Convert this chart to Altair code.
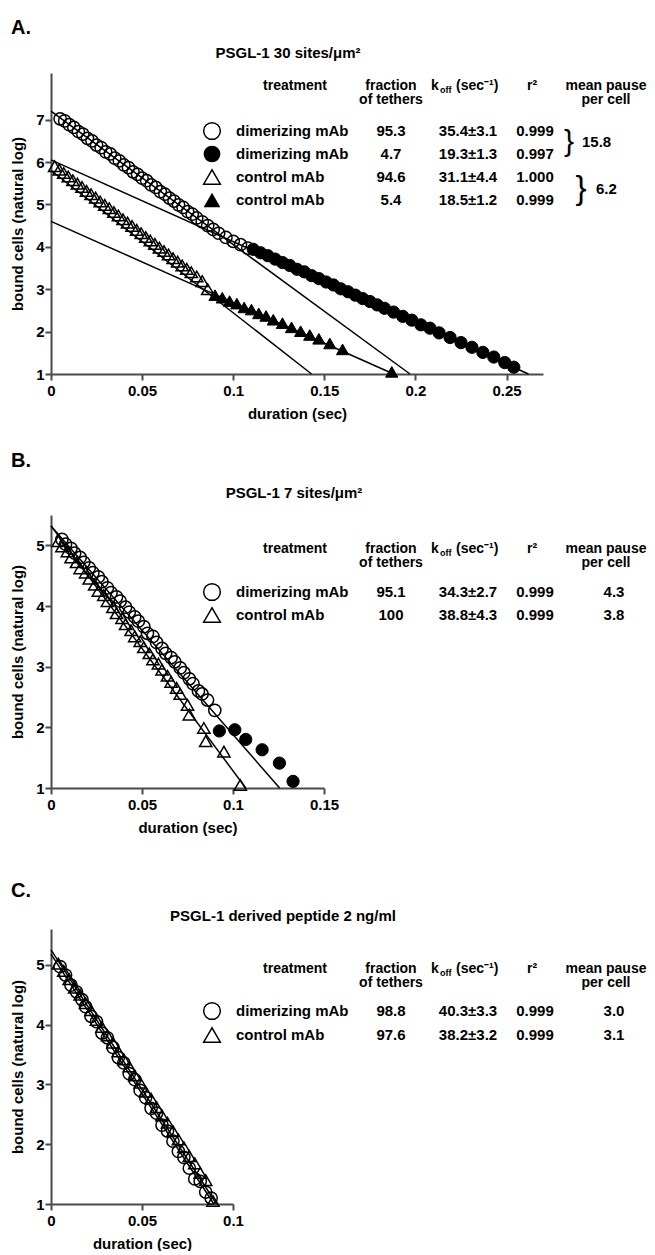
import altair as alt
import pandas as pd

FONT = "Liberation Sans"

# ---------------- data ----------------
# Panel A : PSGL-1 30 sites/um2
A_OC_T = [0.005,0.0075,0.010,0.0125,0.015,0.0175,0.020,0.0225,0.025,0.0275,0.030,0.0325,0.035,0.0375,0.040,0.0425,0.045,0.0475,0.050,0.0525,0.055,0.0575,0.060,0.0625,0.065,0.0675,0.070,0.0725,0.075,0.0775,0.080,0.083,0.086,0.089,0.092,0.096,0.100,0.104,0.108]
A_OC_Y = [7.02,6.97,6.88,6.82,6.72,6.66,6.56,6.50,6.40,6.34,6.24,6.19,6.09,6.03,5.93,5.87,5.77,5.71,5.62,5.56,5.46,5.40,5.30,5.24,5.15,5.08,4.99,4.93,4.83,4.77,4.68,4.59,4.50,4.41,4.32,4.22,4.13,4.05,3.97]
A_FC_T = [0.111,0.115,0.119,0.123,0.127,0.131,0.135,0.139,0.143,0.147,0.151,0.155,0.159,0.163,0.167,0.171,0.175,0.179,0.183,0.188,0.193,0.198,0.203,0.208,0.213,0.219,0.225,0.231,0.237,0.243,0.249,0.254]
A_FC_Y = [3.94,3.86,3.79,3.71,3.63,3.56,3.47,3.41,3.32,3.25,3.17,3.10,3.01,2.94,2.86,2.78,2.71,2.63,2.55,2.46,2.36,2.27,2.16,2.08,1.97,1.86,1.74,1.63,1.51,1.40,1.27,1.16]
A_OT_T = [0.002,0.0045,0.007,0.0095,0.012,0.0145,0.017,0.0195,0.022,0.0245,0.027,0.0295,0.032,0.0345,0.037,0.0395,0.042,0.0445,0.047,0.0495,0.052,0.0545,0.057,0.0595,0.062,0.0645,0.067,0.0695,0.072,0.0745,0.077,0.080,0.083,0.086]
A_OT_Y = [5.90,5.82,5.74,5.66,5.57,5.49,5.41,5.32,5.24,5.16,5.07,4.99,4.91,4.82,4.74,4.65,4.57,4.49,4.40,4.32,4.23,4.15,4.07,3.98,3.90,3.82,3.73,3.65,3.56,3.48,3.40,3.30,3.19,3.00]
A_FT_T = [0.090,0.094,0.098,0.102,0.106,0.110,0.114,0.118,0.122,0.127,0.132,0.137,0.142,0.147,0.153,0.160,0.187]
A_FT_Y = [2.86,2.80,2.72,2.66,2.57,2.52,2.43,2.37,2.28,2.20,2.10,2.01,1.92,1.83,1.72,1.58,1.05]
A_FIT_ID = ["oc", "oc", "fc", "fc", "ot", "ot", "ft", "ft"]
A_FIT_T = [0.0, 0.197, 0.0, 0.262, 0.0, 0.143, 0.0, 0.188]
A_FIT_Y = [7.2, 1.0, 6.05, 1.0, 5.8, 1.0, 4.6, 1.0]

# Panel B : PSGL-1 7 sites/um2
B_OC_T = [0.006,0.008,0.011,0.013,0.016,0.018,0.021,0.023,0.026,0.028,0.031,0.033,0.036,0.038,0.041,0.043,0.046,0.048,0.051,0.053,0.056,0.058,0.061,0.063,0.066,0.068,0.071,0.073,0.076,0.078,0.081,0.083,0.086,0.090]
B_OC_Y = [5.10,5.02,4.95,4.87,4.80,4.72,4.63,4.55,4.48,4.40,4.30,4.22,4.15,4.08,3.98,3.90,3.82,3.75,3.66,3.55,3.50,3.40,3.30,3.22,3.15,3.08,2.98,2.90,2.80,2.72,2.60,2.55,2.45,2.28]
B_FC_T = [0.0925,0.101,0.107,0.116,0.1255,0.133]
B_FC_Y = [1.94,1.96,1.80,1.63,1.41,1.11]
B_OT_T = [0.004,0.006,0.009,0.011,0.014,0.016,0.019,0.021,0.024,0.026,0.029,0.031,0.034,0.036,0.039,0.041,0.044,0.046,0.049,0.051,0.054,0.056,0.059,0.061,0.064,0.066,0.069,0.071,0.075,0.076,0.084,0.085,0.095,0.104]
B_OT_Y = [5.07,4.98,4.90,4.80,4.72,4.62,4.55,4.45,4.35,4.25,4.18,4.08,3.98,3.88,3.80,3.70,3.60,3.50,3.42,3.32,3.22,3.12,3.05,2.95,2.85,2.75,2.65,2.55,2.37,2.21,1.99,1.77,1.60,1.05]
B_FIT_ID = ["oc", "oc", "ot", "ot"]
B_FIT_T = [0.0, 0.1256, 0.0, 0.107]
B_FIT_Y = [5.32, 1.0, 5.32, 1.0]

# Panel C : PSGL-1 derived peptide 2 ng/ml
C_OC_T = [0.005,0.008,0.011,0.014,0.017,0.019,0.022,0.025,0.028,0.031,0.034,0.037,0.040,0.043,0.046,0.049,0.052,0.055,0.058,0.061,0.064,0.067,0.070,0.073,0.076,0.079,0.082,0.085,0.088]
C_OC_Y = [4.97,4.83,4.66,4.55,4.42,4.30,4.14,4.05,3.86,3.78,3.62,3.45,3.36,3.18,3.08,2.90,2.78,2.60,2.52,2.32,2.22,2.05,1.88,1.78,1.60,1.42,1.38,1.20,1.10]
C_OT_T = [0.004,0.007,0.010,0.013,0.016,0.019,0.022,0.025,0.028,0.031,0.034,0.037,0.040,0.043,0.046,0.049,0.052,0.055,0.058,0.061,0.064,0.067,0.070,0.073,0.076,0.079,0.082,0.085,0.089]
C_OT_Y = [5.02,4.90,4.76,4.62,4.50,4.36,4.24,4.08,3.96,3.82,3.70,3.55,3.42,3.30,3.15,3.03,2.88,2.76,2.62,2.48,2.36,2.22,2.08,1.95,1.80,1.68,1.52,1.40,1.05]
C_FIT_ID = ["oc", "oc", "ot", "ot"]
C_FIT_T = [0.0, 0.091, 0.0, 0.0895]
C_FIT_Y = [5.25, 1.0, 5.18, 1.0]

# tables
A_TREAT = ["dimerizing mAb", "dimerizing mAb", "control mAb", "control mAb"]
A_FRAC = ["95.3", "4.7", "94.6", "5.4"]
A_KOFF = ["35.4±3.1", "19.3±1.3", "31.1±4.4", "18.5±1.2"]
A_R2 = ["0.999", "0.997", "1.000", "0.999"]
A_PAUSE = ["15.8", "6.2"]

B_TREAT = ["dimerizing mAb", "control mAb"]
B_FRAC = ["95.1", "100"]
B_KOFF = ["34.3±2.7", "38.8±4.3"]
B_R2 = ["0.999", "0.999"]
B_PAUSE = ["4.3", "3.8"]

C_TREAT = ["dimerizing mAb", "control mAb"]
C_FRAC = ["98.8", "97.6"]
C_KOFF = ["40.3±3.3", "38.2±3.2"]
C_R2 = ["0.999", "0.999"]
C_PAUSE = ["3.0", "3.1"]


# ---------------- helpers ----------------
def enc_xy(xdom, xticks, ydom, yticks):
    x = alt.X("t:Q", scale=alt.Scale(domain=xdom, nice=False, zero=False),
              axis=alt.Axis(values=xticks, labelExpr="toString(datum.value)", title="duration (sec)"))
    y = alt.Y("y:Q", scale=alt.Scale(domain=ydom, nice=False, zero=False),
              axis=alt.Axis(values=yticks, format="d", title="bound cells (natural log)"))
    return x, y


def pts(t, yv, shape, filled, X, Y, size=150):
    df = pd.DataFrame({"t": t, "y": yv})
    if filled:
        m = alt.Chart(df).mark_point(shape=shape, filled=True, size=size, color="black",
                                     stroke="black", strokeWidth=1, opacity=1)
    else:
        m = alt.Chart(df).mark_point(shape=shape, filled=False, size=size, color="black",
                                     strokeWidth=1.5, opacity=1)
    return m.encode(x=X, y=Y)


def fits(ids, t, yv, X, Y):
    df = pd.DataFrame({"id": ids, "t": t, "y": yv})
    return alt.Chart(df).mark_line(color="black", strokeWidth=1.5).encode(x=X, y=Y, detail="id:N")


def txt(s, x, y, size=15, align="left", weight="bold"):
    return alt.Chart(pd.DataFrame({"s": [s]})).mark_text(
        align=align, baseline="middle", font=FONT, fontSize=size, fontWeight=weight, color="black"
    ).encode(x=alt.value(x), y=alt.value(y), text="s:N")


def sym(shape, filled, x, y, size=280):
    df = pd.DataFrame({"s": [0]})
    if filled:
        m = alt.Chart(df).mark_point(shape=shape, filled=True, size=size, color="black", opacity=1)
    else:
        m = alt.Chart(df).mark_point(shape=shape, filled=False, size=size, color="black",
                                     strokeWidth=1.5, opacity=1)
    return m.encode(x=alt.value(x), y=alt.value(y))


# column x positions (relative to the plot's left edge)
CX_SYM, CX_NAME, CX_TREAT, CX_FRAC = 161, 185, 244, 340
CX_K, CX_OFF, CX_SEC, CX_KOFF, CX_R2H, CX_R2 = 380, 389, 405, 417, 481, 484
CX_PAUSE = 555
HS = 14  # header font size


def header(yh, yh2):
    return [
        txt("treatment", CX_TREAT, yh, size=HS, align="center"),
        txt("fraction", CX_FRAC, yh, size=HS, align="center"),
        txt("of tethers", CX_FRAC, yh2, size=HS, align="center"),
        txt("k", CX_K, yh, size=HS),
        txt("off", CX_OFF, yh + 4, size=9),
        txt("(sec⁻¹)", CX_SEC, yh, size=HS),
        txt("r²", CX_R2H, yh, size=HS, align="center"),
        txt("mean pause", CX_PAUSE, yh, size=HS, align="center"),
        txt("per cell", CX_PAUSE, yh2, size=HS, align="center"),
    ]


def rows(shapes, names, fracs, koffs, r2s, ys):
    out = []
    for (shape, filled), n, f, k, r, yy in zip(shapes, names, fracs, koffs, r2s, ys):
        out += [sym(shape, filled, CX_SYM, yy), txt(n, CX_NAME, yy),
                txt(f, CX_FRAC, yy, align="center"), txt(k, CX_KOFF, yy, align="center"),
                txt(r, CX_R2, yy, align="center")]
    return out


# ---------------- panel A ----------------
XA, YA = enc_xy([0, 0.27], [0, 0.05, 0.1, 0.15, 0.2, 0.25], [1, 8.1], [1, 2, 3, 4, 5, 6, 7])
rowsA = [58, 81, 104, 127]
panelA = alt.layer(
    fits(A_FIT_ID, A_FIT_T, A_FIT_Y, XA, YA),
    pts(A_OC_T, A_OC_Y, "circle", False, XA, YA),
    pts(A_FC_T, A_FC_Y, "circle", True, XA, YA),
    pts(A_OT_T, A_OT_Y, "triangle-up", False, XA, YA),
    pts(A_FT_T, A_FT_Y, "triangle-up", True, XA, YA),
    txt("A.", -40, -45, size=20),
    txt("PSGL-1 30 sites/μm²", 237, -20, align="center"),
    *header(13, 27),
    *rows([("circle", False), ("circle", True), ("triangle-up", False), ("triangle-up", True)],
          A_TREAT, A_FRAC, A_KOFF, A_R2, rowsA),
    txt("}", 518, 69, size=30, weight="normal", align="center"),
    txt(A_PAUSE[0], 531, 69),
    txt("}", 530, 116, size=33, weight="normal", align="center"),
    txt(A_PAUSE[1], 545, 116),
).properties(width=492, height=301)

# ---------------- panel B ----------------
XB, YB = enc_xy([0, 0.15], [0, 0.05, 0.1, 0.15], [1, 5.5], [1, 2, 3, 4, 5])
rowsB = [77, 100]
panelB = alt.layer(
    fits(B_FIT_ID, B_FIT_T, B_FIT_Y, XB, YB),
    pts(B_OC_T, B_OC_Y, "circle", False, XB, YB),
    pts(B_FC_T, B_FC_Y, "circle", True, XB, YB),
    pts(B_OT_T, B_OT_Y, "triangle-up", False, XB, YB),
    txt("B.", -40, -54, size=20),
    txt("PSGL-1 7 sites/μm²", 243, -22, align="center"),
    *header(34, 48),
    *rows([("circle", False), ("triangle-up", False)], B_TREAT, B_FRAC, B_KOFF, B_R2, rowsB),
    txt(B_PAUSE[0], 563, rowsB[0], align="center"),
    txt(B_PAUSE[1], 563, rowsB[1], align="center"),
).properties(width=273, height=273)

# ---------------- panel C ----------------
XC, YC = enc_xy([0, 0.1], [0, 0.05, 0.1], [1, 5.6], [1, 2, 3, 4, 5])
rowsC = [82, 106]
panelC = alt.layer(
    fits(C_FIT_ID, C_FIT_T, C_FIT_Y, XC, YC),
    pts(C_OC_T, C_OC_Y, "circle", False, XC, YC),
    pts(C_OT_T, C_OT_Y, "triangle-up", False, XC, YC),
    txt("C.", -40, -38, size=20),
    txt("PSGL-1 derived peptide 2 ng/ml", 232, -13, align="center"),
    *header(40, 54),
    *rows([("circle", False), ("triangle-up", False)], C_TREAT, C_FRAC, C_KOFF, C_R2, rowsC),
    txt(C_PAUSE[0], 563, rowsC[0], align="center"),
    txt(C_PAUSE[1], 563, rowsC[1], align="center"),
).properties(width=182, height=275)

chart = alt.vconcat(panelA, panelB, panelC, spacing=141, bounds="flush").properties(
    padding={"left": 2, "top": 10, "right": 0, "bottom": 0}
).configure_view(stroke=None).configure_axis(
    domainColor="#4a4a4a", domainWidth=2, tickColor="#4a4a4a", tickWidth=2, tickSize=6,
    labelFont=FONT, labelFontSize=15, labelFontWeight="bold", labelColor="black",
    titleFont=FONT, titleFontSize=15, titleFontWeight="bold", titleColor="black",
    grid=False, labelFlush=False, labelOverlap=False,
).configure_axisX(labelPadding=3, titlePadding=8).configure_axisY(labelPadding=1, titlePadding=10)

chart.save("out.html", embed_options={"renderer": "svg", "actions": False})
